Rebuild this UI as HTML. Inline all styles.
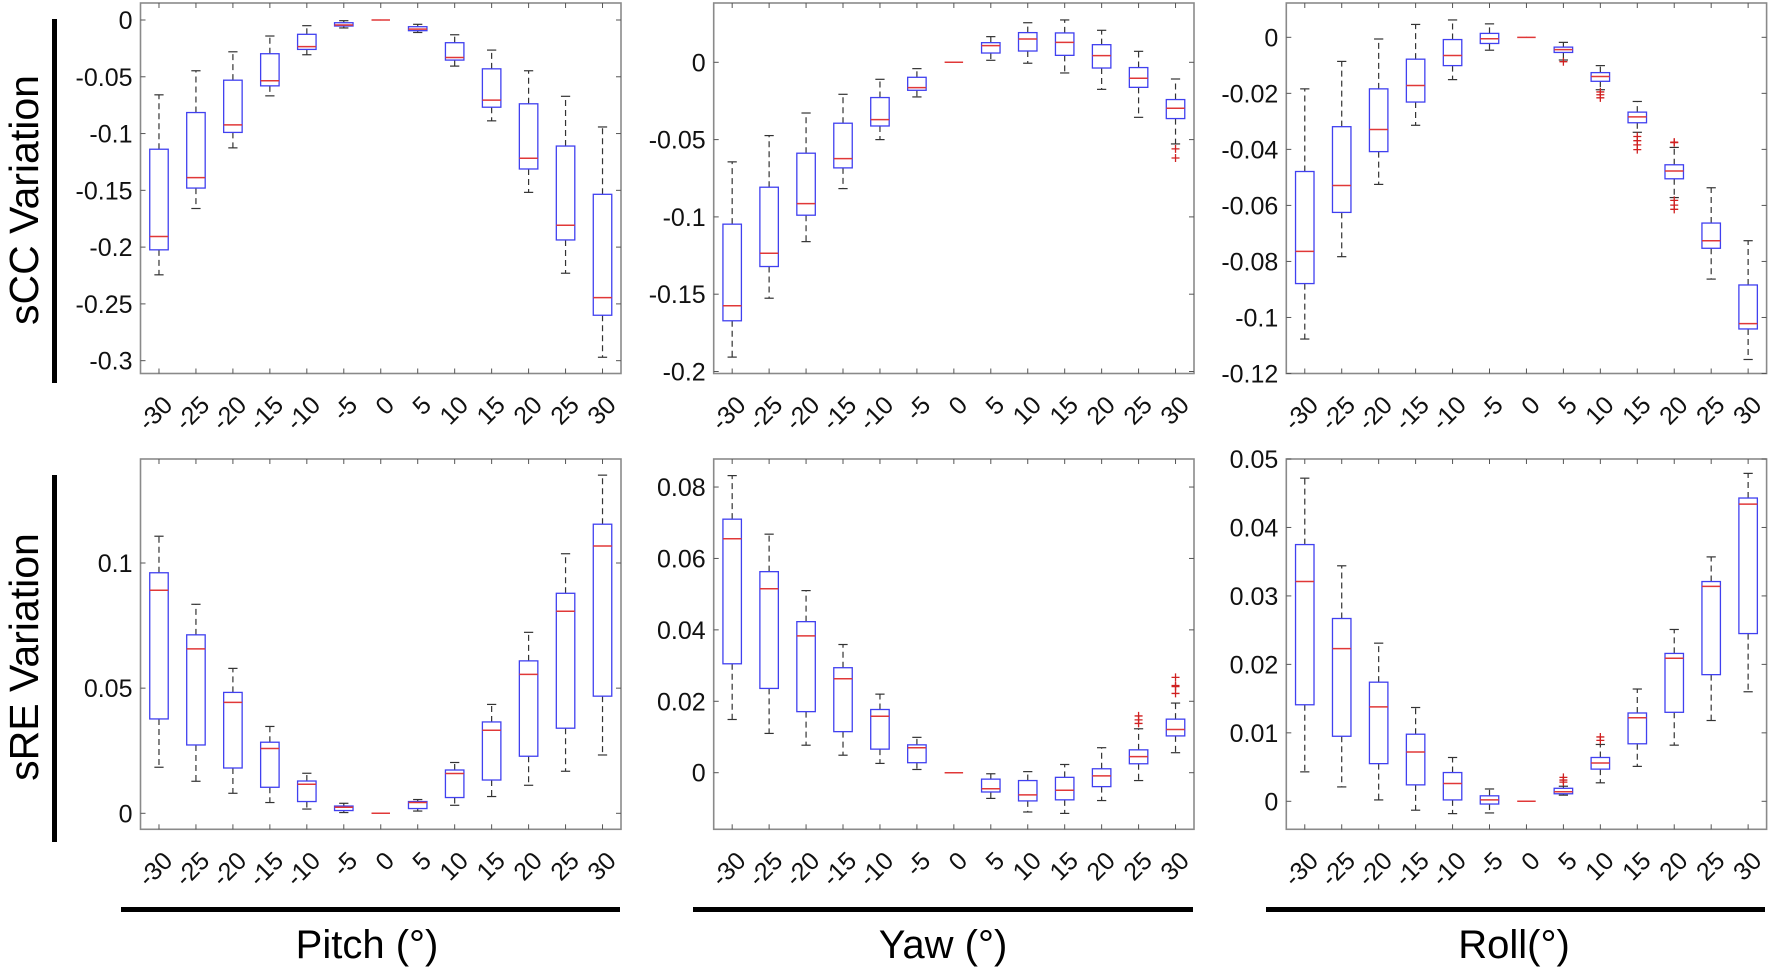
<!DOCTYPE html>
<html><head><meta charset="utf-8">
<style>
html,body{margin:0;padding:0;background:#fff;}
svg{display:block;font-family:"Liberation Sans",Arial,sans-serif;}
</style></head>
<body>
<svg id="fig" width="1772" height="971" viewBox="0 0 1772 971">
  <rect x="52" y="19" width="5" height="364" fill="#000"/>
  <rect x="52" y="475" width="5" height="367" fill="#000"/>
  <text x="0" y="0" transform="translate(38,200) rotate(-90)" text-anchor="middle" font-size="41" fill="#000">sCC Variation</text>
  <text x="0" y="0" transform="translate(38,657) rotate(-90)" text-anchor="middle" font-size="41" fill="#000">sRE Variation</text>
  <rect x="121" y="907" width="499" height="5" fill="#000"/>
  <rect x="693" y="907" width="500" height="5" fill="#000"/>
  <rect x="1266" y="907" width="499" height="5" fill="#000"/>
  <text x="367" y="958" text-anchor="middle" font-size="40">Pitch (°)</text>
  <text x="943" y="958" text-anchor="middle" font-size="40">Yaw (°)</text>
  <text x="1514" y="958" text-anchor="middle" font-size="40">Roll(°)</text>
</svg>
<script>
const categories = ["-30","-25","-20","-15","-10","-5","0","5","10","15","20","25","30"];

// Pitch sCC
const tlMed = [-0.1906,-0.1388,-0.0924,-0.0535,-0.0235,-0.0044,0,-0.008,-0.033,-0.0706,-0.1218,-0.1808,-0.2445];
const tlQ1  = [-0.2024,-0.148,-0.099,-0.058,-0.0259,-0.0053,0,-0.0094,-0.0353,-0.0768,-0.1312,-0.1937,-0.26];
const tlQ3  = [-0.1138,-0.0815,-0.053,-0.0297,-0.0126,-0.0024,0,-0.0059,-0.02,-0.043,-0.0738,-0.111,-0.1535];
const tlLo  = [-0.2244,-0.166,-0.1126,-0.0668,-0.0306,-0.007,0,-0.011,-0.0406,-0.0888,-0.1518,-0.223,-0.297];
const tlHi  = [-0.0659,-0.0447,-0.028,-0.0141,-0.005,-0.0006,0,-0.0038,-0.013,-0.0265,-0.0447,-0.0672,-0.0942];
const tlOut = [];
const tlTicks = [0,-0.05,-0.1,-0.15,-0.2,-0.25,-0.3];
const tlTickLabels = ["0","-0.05","-0.1","-0.15","-0.2","-0.25","-0.3"];

// Yaw sCC
const tmMed = [-0.1575,-0.1235,-0.0914,-0.0623,-0.0371,-0.0164,0,0.0108,0.0151,0.0129,0.0043,-0.0103,-0.0297];
const tmQ1  = [-0.1672,-0.1321,-0.0989,-0.0683,-0.0412,-0.0181,0,0.006,0.0073,0.0045,-0.0037,-0.0162,-0.0364];
const tmQ3  = [-0.1047,-0.0808,-0.0588,-0.0394,-0.0228,-0.0097,0,0.0127,0.0192,0.019,0.0114,-0.0034,-0.0241];
const tmLo  = [-0.1907,-0.1526,-0.116,-0.0817,-0.05,-0.0224,0,0.0013,-0.0006,-0.0069,-0.0175,-0.0356,-0.0528];
const tmHi  = [-0.0644,-0.0474,-0.0328,-0.0207,-0.011,-0.0041,0,0.0166,0.0256,0.0274,0.0207,0.0071,-0.0108];
const tmOut = [[12,-0.056],[12,-0.0619]];
const tmTicks = [0,-0.05,-0.1,-0.15,-0.2];
const tmTickLabels = ["0","-0.05","-0.1","-0.15","-0.2"];

// Roll sCC
const trMed = [-0.0764,-0.0529,-0.0329,-0.0172,-0.0065,-0.0005,0,-0.0044,-0.014,-0.0284,-0.0477,-0.0726,-0.1022];
const trQ1  = [-0.0879,-0.0625,-0.0408,-0.0231,-0.0101,-0.0022,0,-0.0054,-0.0157,-0.0305,-0.0505,-0.0753,-0.1041];
const trQ3  = [-0.0479,-0.0319,-0.0184,-0.0078,-0.0008,0.0014,0,-0.0035,-0.0126,-0.0267,-0.0455,-0.0663,-0.0884];
const trLo  = [-0.1077,-0.0783,-0.0525,-0.0314,-0.0151,-0.0046,0,-0.0081,-0.0187,-0.0339,-0.0572,-0.0863,-0.115];
const trHi  = [-0.0184,-0.0086,-0.0006,0.0046,0.0062,0.0048,0,-0.0018,-0.0101,-0.0229,-0.0393,-0.0537,-0.0726];
const trOut = [[7,-0.0087],[8,-0.0195],[8,-0.0205],[8,-0.0216],[9,-0.0354],[9,-0.0369],[9,-0.0384],[9,-0.0401],[10,-0.0374],[10,-0.0376],[10,-0.0582],[10,-0.0599],[10,-0.0614]];
const trTicks = [0,-0.02,-0.04,-0.06,-0.08,-0.1,-0.12];
const trTickLabels = ["0","-0.02","-0.04","-0.06","-0.08","-0.1","-0.12"];

// Pitch sRE
const blMed = [0.0891,0.0657,0.0443,0.0259,0.0116,0.0024,0,0.0043,0.0159,0.0332,0.0555,0.0807,0.1068];
const blQ1  = [0.0377,0.0273,0.0181,0.0104,0.0047,0.0011,0,0.0019,0.0063,0.0133,0.0228,0.034,0.0468];
const blQ3  = [0.0961,0.0713,0.0483,0.0284,0.0129,0.0029,0,0.0047,0.0173,0.0365,0.0609,0.0879,0.1155];
const blLo  = [0.0184,0.0128,0.008,0.0043,0.0017,0.0003,0,0.0009,0.0032,0.0067,0.0112,0.0168,0.0233];
const blHi  = [0.1107,0.0835,0.0579,0.0347,0.016,0.004,0,0.0055,0.0203,0.0435,0.0723,0.1037,0.1351];
const blOut = [];
const blTicks = [0,0.05,0.1];
const blTickLabels = ["0","0.05","0.1"];

// Yaw sRE
const bmMed = [0.0655,0.0515,0.0383,0.0263,0.0158,0.007,0,-0.0045,-0.0062,-0.0049,-0.0009,0.0045,0.0121];
const bmQ1  = [0.0305,0.0236,0.0171,0.0115,0.0066,0.0028,0,-0.0054,-0.0079,-0.0076,-0.0039,0.0025,0.0103];
const bmQ3  = [0.071,0.0563,0.0423,0.0294,0.0177,0.0078,0,-0.0018,-0.0022,-0.0013,0.0011,0.0064,0.015];
const bmLo  = [0.0149,0.011,0.0077,0.0049,0.0026,0.0009,0,-0.0072,-0.011,-0.0114,-0.0078,-0.0022,0.0056];
const bmHi  = [0.0832,0.0668,0.051,0.0359,0.022,0.0099,0,-0.0003,0.0003,0.0023,0.007,0.0123,0.0195];
const bmOut = [[11,0.0159],[11,0.0148],[11,0.0138],[12,0.0267],[12,0.0244],[12,0.0241],[12,0.0222]];
const bmTicks = [0,0.02,0.04,0.06,0.08];
const bmTickLabels = ["0","0.02","0.04","0.06","0.08"];

// Roll sRE
const brMed = [0.0321,0.0223,0.0138,0.0072,0.0026,0.0002,0,0.0014,0.0056,0.0122,0.0209,0.0314,0.0434];
const brQ1  = [0.0141,0.0095,0.0055,0.0024,0.0002,-0.0004,0,0.0011,0.0047,0.0084,0.013,0.0185,0.0245];
const brQ3  = [0.0375,0.0267,0.0174,0.0098,0.0042,0.0008,0,0.0019,0.0064,0.0129,0.0216,0.0321,0.0443];
const brLo  = [0.0043,0.0021,0.0002,-0.0013,-0.0018,-0.0017,0,0.0009,0.0027,0.0051,0.0082,0.0118,0.016];
const brHi  = [0.0472,0.0344,0.0231,0.0137,0.0064,0.0018,0,0.0022,0.0083,0.0164,0.0251,0.0357,0.0479];
const brOut = [[7,0.0035],[7,0.0031],[7,0.0028],[8,0.0094],[8,0.0089]];
const brTicks = [0,0.01,0.02,0.03,0.04,0.05];
const brTickLabels = ["0","0.01","0.02","0.03","0.04","0.05"];

const NS = "http://www.w3.org/2000/svg";
const svg = document.getElementById('fig');
function mk(tag, attrs, parent){
  const e = document.createElementNS(NS, tag);
  for (const k in attrs) e.setAttribute(k, attrs[k]);
  (parent||svg).appendChild(e);
  return e;
}

function panel(key, L, R, T, B, vTop, vBot, med, q1, q3, lo, hi, out, ticks, tickLabels){
  const g = mk('g', {});
  
  
  const n = categories.length;
  const step = (R - L) / n;
  const xs = i => L + (i + 0.5) * step;
  const ys = v => T + (vTop - v) / (vTop - vBot) * (B - T);
  const axisCol = '#8a8a8a';
  const frame = mk('rect', {x:L, y:T, width:R-L, height:B-T, fill:'none', stroke:axisCol, 'stroke-width':1.6}, g);
  
  
  for (let i = 0; i < n; i++){
    const x = xs(i);
    mk('line', {x1:x, x2:x, y1:B, y2:B-5, stroke:'#555', 'stroke-width':1}, g);
    mk('line', {x1:x, x2:x, y1:T, y2:T+5, stroke:'#555', 'stroke-width':1}, g);
    const t = mk('text', {x:0, y:0, transform:'translate(' + (x+15) + ',' + (B+33) + ') rotate(-45)', 'text-anchor':'end', 'font-size':25, fill:'#111'}, g);
    t.textContent = categories[i];
    
    
  }
  for (let j = 0; j < ticks.length; j++){
    const y = ys(ticks[j]);
    mk('line', {x1:L, x2:L+5, y1:y, y2:y, stroke:'#555', 'stroke-width':1}, g);
    mk('line', {x1:R, x2:R-5, y1:y, y2:y, stroke:'#555', 'stroke-width':1}, g);
    const t = mk('text', {x:L-8, y:y+9, 'text-anchor':'end', 'font-size':25, fill:'#111'}, g);
    t.textContent = tickLabels[j];
    
    
  }
  const bw = step * 0.5, cw = step * 0.25;
  for (let i = 0; i < n; i++){
    const x = xs(i);
    const bg = mk('g', {}, g);
    
    
    mk('line', {x1:x, x2:x, y1:ys(q3[i]), y2:ys(hi[i]), stroke:'#333', 'stroke-width':1.2, 'stroke-dasharray':'6,4'}, bg);
    mk('line', {x1:x, x2:x, y1:ys(q1[i]), y2:ys(lo[i]), stroke:'#333', 'stroke-width':1.2, 'stroke-dasharray':'6,4'}, bg);
    if (hi[i] !== lo[i]){
      mk('line', {x1:x-cw/2, x2:x+cw/2, y1:ys(hi[i]), y2:ys(hi[i]), stroke:'#333', 'stroke-width':1.2}, bg);
      mk('line', {x1:x-cw/2, x2:x+cw/2, y1:ys(lo[i]), y2:ys(lo[i]), stroke:'#333', 'stroke-width':1.2}, bg);
      const ytop = ys(q3[i]), ybot = ys(q1[i]);
      mk('rect', {x:x-bw/2, y:ytop, width:bw, height:Math.max(0.5, ybot-ytop), fill:'none', stroke:'#4040f0', 'stroke-width':1.3}, bg);
    }
    mk('line', {x1:x-bw/2, x2:x+bw/2, y1:ys(med[i]), y2:ys(med[i]), stroke:'#e03838', 'stroke-width':1.5}, bg);
  }
  for (let k = 0; k < out.length; k++){
    const x = xs(out[k][0]), y = ys(out[k][1]);
    const o = mk('path', {d:'M' + (x-4) + ' ' + y + 'H' + (x+4) + 'M' + x + ' ' + (y-4) + 'V' + (y+4), stroke:'#d02020', 'stroke-width':1.3, fill:'none'}, g);
    
    
  }
}

panel('pitch-scc', 140.5, 621, 3, 373.5, 0.01497, -0.3113, tlMed, tlQ1, tlQ3, tlLo, tlHi, tlOut, tlTicks, tlTickLabels);
panel('yaw-scc', 713.7, 1194, 3, 373.5, 0.03836, -0.2013, tmMed, tmQ1, tmQ3, tmLo, tmHi, tmOut, tmTicks, tmTickLabels);
panel('roll-scc', 1286.3, 1766.6, 3, 373.5, 0.01225, -0.12, trMed, trQ1, trQ3, trLo, trHi, trOut, trTicks, trTickLabels);
panel('pitch-sre', 140.5, 621, 459, 829.3, 0.14155, -0.00639, blMed, blQ1, blQ3, blLo, blHi, blOut, blTicks, blTickLabels);
panel('yaw-sre', 713.7, 1194, 459, 829.3, 0.08785, -0.01585, bmMed, bmQ1, bmQ3, bmLo, bmHi, bmOut, bmTicks, bmTickLabels);
panel('roll-sre', 1286.3, 1766.6, 459, 829.3, 0.05, -0.00409, brMed, brQ1, brQ3, brLo, brHi, brOut, brTicks, brTickLabels);
</script>
</body></html>
